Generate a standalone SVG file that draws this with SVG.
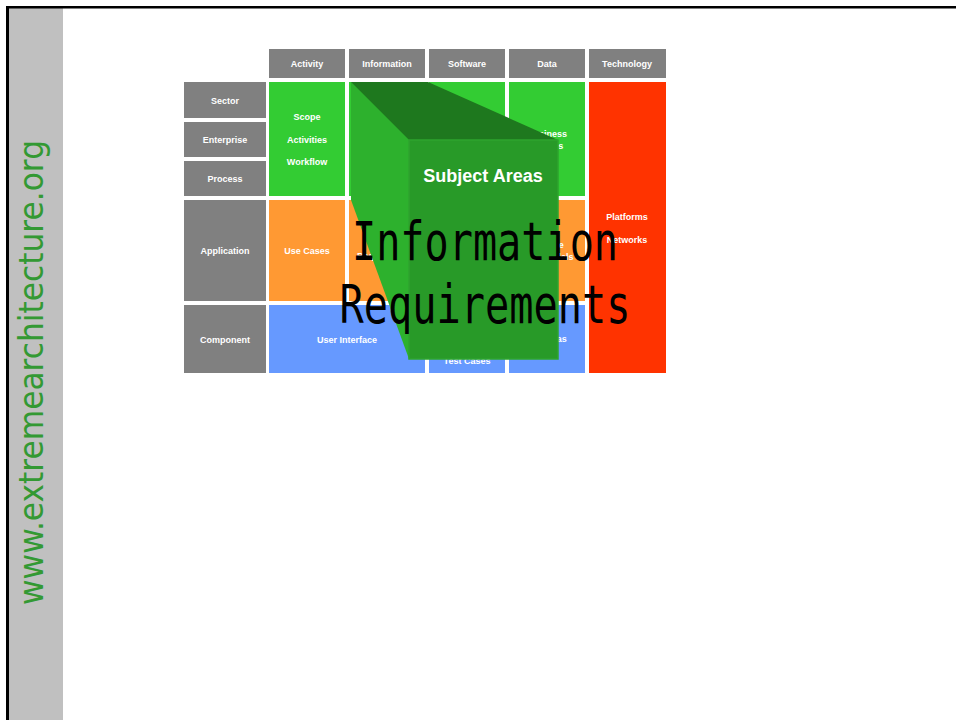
<svg xmlns="http://www.w3.org/2000/svg" width="956" height="720" viewBox="0 0 956 720">
<style>
.hd{fill:#808080}
.g{fill:#33cc33}
.o{fill:#ff9933}
.b{fill:#6699ff}
.r{fill:#ff3300}
.t{font-family:"Liberation Sans",Arial,sans-serif;font-weight:bold;font-size:9px;fill:#ffffff;text-anchor:middle}
.big{font-family:"DejaVu Sans Mono",monospace;font-size:53px;fill:#000000;text-anchor:middle}
</style>
<rect x="0" y="0" width="956" height="720" fill="#ffffff"/>
<g id="frame">
<rect x="9" y="8" width="54" height="712" fill="#c0c0c0"/>
<rect x="6" y="6" width="950" height="2.5" fill="#000000"/>
<rect x="6" y="6" width="3" height="714" fill="#000000"/>
<text transform="translate(43,605) rotate(-90)" x="0" y="0" textLength="465" lengthAdjust="spacingAndGlyphs" font-family="'DejaVu Sans',sans-serif" font-weight="normal" font-size="33" fill="#339933">www.extremearchitecture.org</text>
</g>
<g id="headers">
<g id="h-activity"><rect class="hd" x="269" y="49" width="76" height="29"/><text class="t" x="307" y="67">Activity</text></g>
<g id="h-information"><rect class="hd" x="349" y="49" width="76" height="29"/><text class="t" x="387" y="67">Information</text></g>
<g id="h-software"><rect class="hd" x="429" y="49" width="76" height="29"/><text class="t" x="467" y="67">Software</text></g>
<g id="h-data"><rect class="hd" x="509" y="49" width="76" height="29"/><text class="t" x="547" y="67">Data</text></g>
<g id="h-technology"><rect class="hd" x="589" y="49" width="77" height="29"/><text class="t" x="627" y="67">Technology</text></g>
</g>
<g id="rows">
<g id="r-sector"><rect class="hd" x="184" y="82" width="82" height="36"/><text class="t" x="225" y="104">Sector</text></g>
<g id="r-enterprise"><rect class="hd" x="184" y="122" width="82" height="35"/><text class="t" x="225" y="143">Enterprise</text></g>
<g id="r-process"><rect class="hd" x="184" y="161" width="82" height="35"/><text class="t" x="225" y="182">Process</text></g>
<g id="r-application"><rect class="hd" x="184" y="200" width="82" height="101"/><text class="t" x="225" y="254">Application</text></g>
<g id="r-component"><rect class="hd" x="184" y="305" width="82" height="68"/><text class="t" x="225" y="343">Component</text></g>
</g>
<g id="cells">
<g id="c-activity-top"><rect class="g" x="269" y="82" width="76" height="114"/>
<text class="t" x="307" y="120">Scope</text><text class="t" x="307" y="143">Activities</text><text class="t" x="307" y="165">Workflow</text></g>
<g id="c-information-top"><rect class="g" x="349" y="82" width="76" height="114"/></g>
<g id="c-software-top"><rect class="g" x="429" y="82" width="76" height="114"/></g>
<g id="c-data-top"><rect class="g" x="509" y="82" width="76" height="114"/>
<text class="t" x="547" y="137">Business</text><text class="t" x="547" y="149">Entities</text></g>
<g id="c-technology"><rect class="r" x="589" y="82" width="77" height="291"/>
<text class="t" x="627" y="219.5">Platforms</text><text class="t" x="627" y="242.5">Networks</text></g>
<g id="c-activity-app"><rect class="o" x="269" y="200" width="76" height="101"/><text class="t" x="307" y="254">Use Cases</text></g>
<g id="c-information-app"><rect class="o" x="349" y="200" width="76" height="101"/><text class="t" x="387" y="259">Requirements</text></g>
<g id="c-software-app"><rect class="o" x="429" y="200" width="76" height="101"/></g>
<g id="c-data-app"><rect class="o" x="509" y="200" width="76" height="101"/>
<text class="t" x="547" y="247.5">Storage</text><text class="t" x="547" y="260">Data Models</text></g>
<g id="c-ui"><rect class="b" x="269" y="305" width="156" height="68"/><text class="t" x="347" y="343">User Interface</text></g>
<g id="c-software-comp"><rect class="b" x="429" y="305" width="76" height="68"/><text class="t" x="467" y="364">Test Cases</text></g>
<g id="c-data-comp"><rect class="b" x="509" y="305" width="76" height="68"/><text class="t" x="547" y="342">Schemas</text></g>
</g>
<g id="subject-box">
<polygon points="351,82 409,140 409,359 351,200" fill="#2db12d"/>
<polygon points="351,82 428,82 558,140 409,140" fill="#1e781e"/>
<rect x="409" y="140" width="149" height="219" fill="#289a28" stroke="#2ea42e" stroke-width="1.5"/>
<text x="483" y="182" font-family="'Liberation Sans',Arial,sans-serif" font-weight="bold" font-size="18" fill="#ffffff" text-anchor="middle">Subject Areas</text>
</g>
<g id="title">
<text class="big" x="485" y="260" textLength="266" lengthAdjust="spacingAndGlyphs">Information</text>
<text class="big" x="485" y="323" textLength="291" lengthAdjust="spacingAndGlyphs">Requirements</text>
</g>
</svg>
